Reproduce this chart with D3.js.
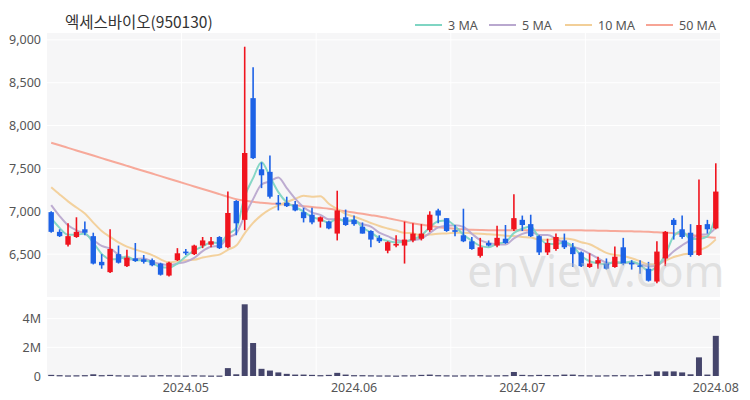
<!DOCTYPE html>
<html><head><meta charset="utf-8">
<script src="https://cdn.jsdelivr.net/npm/d3@7"></script>
<style>body{margin:0;background:#fff;} svg{display:block;font-family:"Noto Sans CJK KR","Noto Sans",sans-serif;}</style>
</head><body><svg id="c" width="750" height="400"></svg>
<script>
const title = "엑세스바이오(950130)";
const dates = [
"2024-04-08","2024-04-09","2024-04-11","2024-04-12","2024-04-15","2024-04-16","2024-04-17","2024-04-18","2024-04-19",
"2024-04-22","2024-04-23","2024-04-24","2024-04-25","2024-04-26","2024-04-29","2024-04-30",
"2024-05-02","2024-05-03","2024-05-07","2024-05-08","2024-05-09","2024-05-10","2024-05-13","2024-05-14","2024-05-16","2024-05-17",
"2024-05-20","2024-05-21","2024-05-22","2024-05-23","2024-05-24","2024-05-27","2024-05-28","2024-05-29","2024-05-30","2024-05-31",
"2024-06-03","2024-06-04","2024-06-05","2024-06-06","2024-06-07","2024-06-10","2024-06-11","2024-06-12","2024-06-13","2024-06-14",
"2024-06-17","2024-06-18","2024-06-19","2024-06-20","2024-06-21","2024-06-24","2024-06-25","2024-06-26","2024-06-27","2024-06-28",
"2024-07-01","2024-07-02","2024-07-03","2024-07-04","2024-07-05","2024-07-08","2024-07-09","2024-07-10","2024-07-11","2024-07-12",
"2024-07-15","2024-07-16","2024-07-17","2024-07-18","2024-07-19","2024-07-22","2024-07-23","2024-07-24","2024-07-25","2024-07-26",
"2024-07-29","2024-07-30","2024-07-31","2024-08-01"];
const open  = [6990,6760,6610,6700,6790,6710,6410,6290,6500,6360,6450,6440,6430,6390,6250,6430,6530,6500,6600,6610,
               6700,6580,7120,6900,8320,7490,7460,7100,7100,7080,6990,6960,6880,6880,6740,6930,6900,6820,6770,6690,
               6540,6600,6600,6660,6680,6780,7010,6920,6780,6720,6650,6480,6630,6600,6680,6790,6900,6850,6710,6520,
               6560,6660,6580,6520,6350,6390,6390,6350,6580,6400,6370,6330,6180,6450,6900,6790,6750,6490,6850,6800];
const high  = [7000,6790,6860,6930,6880,6750,6500,6790,6600,6550,6630,6490,6450,6400,6410,6570,6560,6610,6700,6700,
               6710,7230,7130,8920,8680,7570,7650,7190,7170,7120,7040,7040,6940,6890,7240,7020,6950,6870,6780,6720,
               6650,6720,6880,6860,6850,7000,7030,6920,6840,7030,6700,6690,6660,6830,6840,7200,6950,6960,6720,6680,
               6740,6740,6630,6530,6510,6470,6450,6590,6690,6430,6430,6410,6650,6770,6920,6950,6850,7370,6900,7560];
const low   = [6750,6700,6590,6690,6720,6380,6330,6280,6390,6350,6410,6390,6360,6250,6240,6420,6490,6490,6570,6580,
               6560,6570,6720,6780,7610,7270,7150,7010,7050,7000,6870,6850,6810,6790,6660,6830,6830,6740,6580,6630,
               6510,6580,6390,6640,6660,6760,6860,6760,6710,6640,6550,6460,6590,6580,6620,6770,6770,6700,6490,6490,
               6540,6560,6350,6350,6340,6330,6320,6340,6370,6320,6270,6180,6160,6360,6670,6680,6470,6480,6740,6790];
const close = [6760,6710,6710,6760,6750,6390,6370,6560,6400,6460,6420,6410,6370,6260,6400,6510,6510,6600,6660,6650,
               6570,6980,6860,7680,7620,7420,7170,7080,7060,7010,6920,6870,6930,6800,7010,6840,6850,6740,6670,6650,
               6640,6620,6670,6740,6740,6960,6950,6770,6760,6650,6560,6580,6600,6690,6630,6920,6840,6710,6520,6630,
               6700,6580,6500,6360,6390,6430,6330,6470,6390,6380,6350,6190,6530,6760,6840,6700,6490,6840,6790,7230];
const volume = [0.08,0.06,0.04,0.05,0.06,0.12,0.06,0.08,0.05,0.04,0.04,0.03,0.04,0.06,0.05,0.04,0.03,0.05,0.04,0.03,
                0.03,0.55,0.12,5.0,2.3,0.5,0.38,0.25,0.15,0.1,0.1,0.08,0.06,0.08,0.22,0.1,0.06,0.06,0.05,0.04,
                0.04,0.03,0.05,0.05,0.08,0.1,0.06,0.05,0.04,0.05,0.05,0.06,0.04,0.05,0.06,0.28,0.08,0.06,0.08,0.07,
                0.06,0.1,0.1,0.06,0.05,0.04,0.05,0.06,0.06,0.05,0.07,0.1,0.32,0.32,0.32,0.25,0.12,1.3,0.1,2.8].map(v => v * 1e6);
// closes before the visible window (read from where the short MAs start)
const priorCloses = [7550,7520,7480,7450,7450,7350,7250,7050,6950];
const ma50 = [7800,7770,7740,7710,7680,7650,7620,7590,7560,7530,7500,7470,7440,7410,7380,7350,7320,7290,7260,7230,
              7200,7170,7140,7125,7110,7100,7090,7085,7080,7070,7060,7050,7040,7030,7015,7000,6985,6970,6955,6940,
              6920,6900,6880,6860,6845,6830,6815,6805,6795,6790,6785,6782,6780,6780,6780,6780,6780,6780,6780,6780,
              6780,6780,6780,6778,6776,6774,6772,6770,6768,6766,6764,6760,6755,6750,6745,6735,6725,6710,6700,6690];
const priceTicks = [6500,7000,7500,8000,8500,9000];
const volTicks = [0, 2e6, 4e6];
const maNames = ["3 MA","5 MA","10 MA","50 MA"];
const maColors = ["#7fd5c3","#b9a8cf","#f2cf98","#f7a495"];

const svg = d3.select("#c");
const L = 47, R = 720;
const x = d3.scaleBand().domain(dates).range([L, R]).paddingInner(0.36).paddingOuter(0.18);
const y = d3.scaleLinear().domain([6000, 9080]).range([297, 33]);
const yv = d3.scaleLinear().domain([0, 5.3e6]).range([376, 300]);
const cx = d => x(d) + x.bandwidth() / 2;

// panels
svg.append("rect").attr("x", L).attr("y", 33).attr("width", R - L).attr("height", 264).attr("fill", "#f6f6f7");
svg.append("rect").attr("x", L).attr("y", 300).attr("width", R - L).attr("height", 76).attr("fill", "#f6f6f7");
// grid
const grid = svg.append("g").attr("stroke", "#ffffff").attr("stroke-width", 1);
priceTicks.forEach(t => grid.append("line").attr("x1", L).attr("x2", R).attr("y1", y(t)).attr("y2", y(t)));
volTicks.slice(1).forEach(t => grid.append("line").attr("x1", L).attr("x2", R).attr("y1", yv(t)).attr("y2", yv(t)));
for (let k = 1; k < 5; k++) {
  const gx = L + (R - L) * k / 5;
  grid.append("line").attr("x1", gx).attr("x2", gx).attr("y1", 33).attr("y2", 297);
  grid.append("line").attr("x1", gx).attr("x2", gx).attr("y1", 300).attr("y2", 376);
}

// axes
const ay = svg.append("g").attr("transform", `translate(${L - 3},0)`)
  .call(d3.axisLeft(y).tickValues(priceTicks).tickFormat(d3.format(",")).tickSize(0));
const av = svg.append("g").attr("transform", `translate(${L - 3},0)`)
  .call(d3.axisLeft(yv).tickValues(volTicks).tickFormat(d => d === 0 ? "0" : (d / 1e6) + "M").tickSize(0));
const monthStarts = dates.filter((d, i) => i > 0 && d.slice(5, 7) !== dates[i - 1].slice(5, 7));
const ax = svg.append("g").attr("transform", `translate(0,376)`)
  .call(d3.axisBottom(x).tickValues(monthStarts).tickFormat(d => d.slice(0, 7).replace("-", ".")).tickSize(0));
[ay, av, ax].forEach(g => {
  g.select(".domain").remove();
  g.selectAll("text").attr("fill", "#555").style("font-size", "12.5px").style("font-family", '"Noto Sans","Noto Sans CJK KR",sans-serif');
});
ax.selectAll("text").attr("dy", "1.05em");

// moving averages
const allC = priorCloses.concat(close);
const off = priorCloses.length;
function ma(n) { return close.map((c, i) => d3.mean(allC.slice(i + off - n + 1, i + off + 1))); }
const maSeries = [ma(3), ma(5), ma(10), ma50];
const line = d3.line().x((v, i) => cx(dates[i])).y(v => y(v)).curve(d3.curveMonotoneX);
// draw 50, 10, 5, 3 order
[3, 2, 1, 0].forEach(k => {
  svg.append("path").attr("d", line(maSeries[k])).attr("fill", "none")
    .attr("stroke", maColors[k]).attr("stroke-width", 2).attr("stroke-opacity", 0.95);
});

// candles
const up = "#f0141e", dn = "#1d62e6";
const cg = svg.append("g");
dates.forEach((d, i) => {
  const col = close[i] >= open[i] ? up : dn;
  cg.append("line").attr("x1", cx(d)).attr("x2", cx(d)).attr("y1", y(high[i])).attr("y2", y(low[i]))
    .attr("stroke", col).attr("stroke-width", 1.6);
  const top = y(Math.max(open[i], close[i])), bot = y(Math.min(open[i], close[i]));
  cg.append("rect").attr("x", x(d)).attr("width", x.bandwidth()).attr("y", top)
    .attr("height", Math.max(1.5, bot - top)).attr("fill", col);
});

// volume
svg.append("g").selectAll("rect").data(dates).join("rect")
  .attr("x", d => x(d) - 0.3).attr("width", x.bandwidth() + 0.6)
  .attr("y", (d, i) => yv(volume[i])).attr("height", (d, i) => Math.max(1.2, yv(0) - yv(volume[i])))
  .attr("fill", "#45456b");

// watermark
svg.append("text").attr("x", 596).attr("y", 287).attr("text-anchor", "middle")
  .style("font-size", "44px").style("font-family", '"Noto Sans",sans-serif')
  .attr("fill", "#c4c4c4").attr("fill-opacity", 0.45).text("enVievv.com");

// title
svg.append("text").attr("x", 65).attr("y", 28).attr("fill", "#333").style("font-size", "15.5px").text(title);

// legend
const lx = [415, 489, 565, 646];
maNames.forEach((n, k) => {
  svg.append("line").attr("x1", lx[k]).attr("x2", lx[k] + 27).attr("y1", 25).attr("y2", 25)
    .attr("stroke", maColors[k]).attr("stroke-width", 2);
  svg.append("text").attr("x", lx[k] + 33).attr("y", 29.5).attr("fill", "#555")
    .style("font-size", "12.5px").style("font-family", '"Noto Sans",sans-serif').text(n);
});
</script></body></html>
